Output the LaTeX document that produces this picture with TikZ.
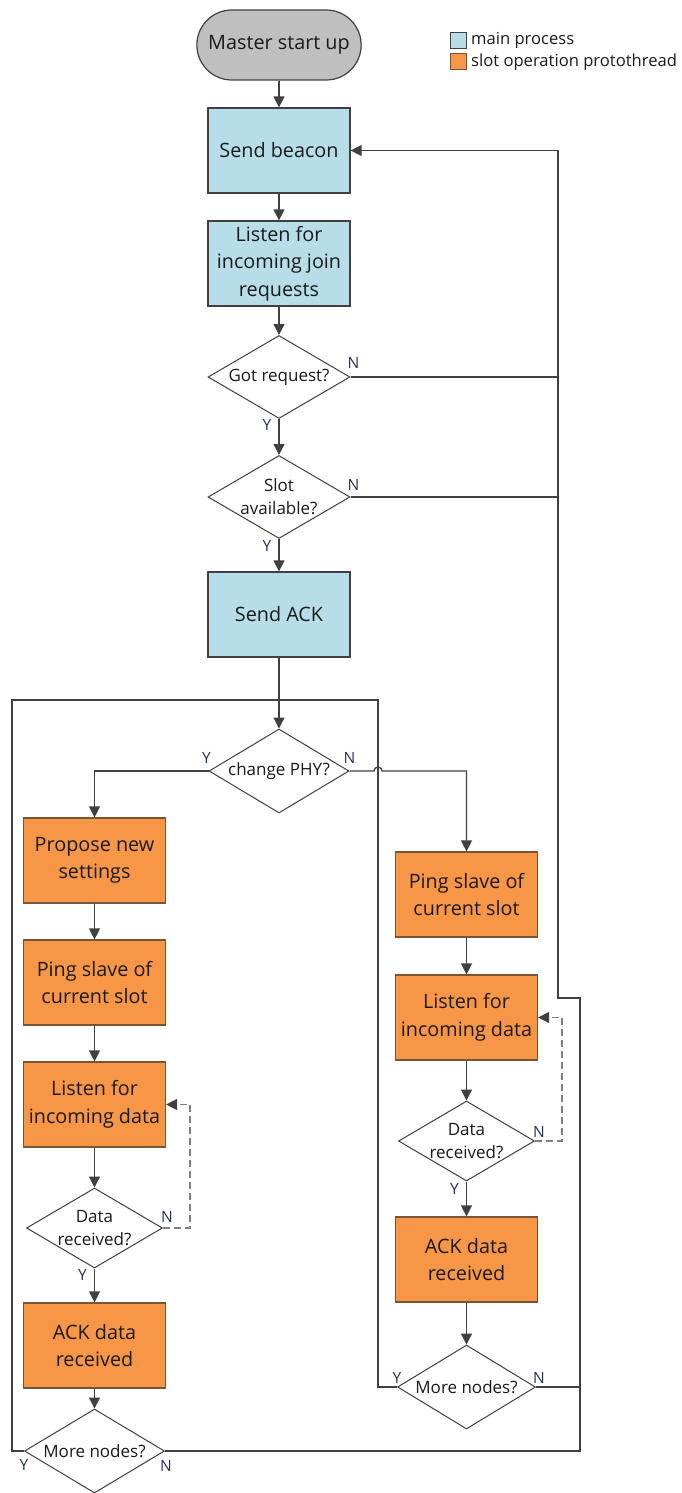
\documentclass[tikz,border=0pt]{standalone}
\usepackage{fontspec}
\setmainfont{Open Sans}
\usetikzlibrary{shapes.geometric,shapes.misc,arrows.meta,calc}

\definecolor{mainblue}{HTML}{B7DDE8}
\definecolor{slotorange}{HTML}{F79646}
\definecolor{termgrey}{HTML}{BFBFBF}
\definecolor{linegrey}{HTML}{404040}
\definecolor{orangeedge}{HTML}{7A5535}
\definecolor{txt}{HTML}{1A1A1A}
\definecolor{lbl}{HTML}{26325A}
\definecolor{dashgrey}{HTML}{808080}

\begin{document}
\begin{tikzpicture}[x=1pt,y=-1pt,
  every node/.style={text=txt},
  box/.style={rectangle, draw=linegrey, line width=1.2pt, minimum width=142pt,
    minimum height=85pt, align=center, inner sep=2pt,
    font=\fontsize{19.8}{27.5}\selectfont},
  mainbox/.style={box, fill=mainblue},
  slotbox/.style={box, fill=slotorange, draw=orangeedge},
  terminal/.style={rounded rectangle, draw=linegrey, fill=termgrey, line width=1.2pt,
    minimum width=171pt, minimum height=70pt, font=\fontsize{19.8}{24}\selectfont},
  dec/.style={diamond, draw=linegrey, line width=1pt, fill=white,
    minimum width=142pt, minimum height=83pt, inner sep=0pt},
  dectext/.style={align=center, inner sep=0pt, font=\fontsize{17}{23}\selectfont},
  yn/.style={font=\fontsize{15.5}{17}\selectfont, text=lbl, inner sep=0pt},
  conn/.style={draw=linegrey, line width=1.3pt},
  arr/.style={conn, -{Triangle[length=11pt,width=11pt]}},
  dasharr/.style={draw=dashgrey, line width=1.3pt, dash pattern=on 7pt off 4pt,
    -{Triangle[length=11pt,width=11pt,color=linegrey]}},
  keybox/.style={rectangle, draw=linegrey, line width=1pt, minimum size=16pt, inner sep=0pt},
  keytext/.style={anchor=west, inner sep=0pt, font=\fontsize{16.6}{18}\selectfont}
]
\useasboundingbox (0,0) rectangle (682,1493);

% legend
\node[keybox, fill=mainblue] (keymain) at (458,40.5) {};
\node[keytext] (keymaintxt) at (471,40.5) {main process};
\node[keybox, fill=slotorange, draw=orangeedge] (keyslot) at (458,62) {};
\node[keytext] (keyslottxt) at (471,62) {slot operation protothread};

% main process
\node[terminal] (start) at (279,45) {Master start up};
\node[mainbox] (beacon) at (279,150.5) {Send beacon};
\node[mainbox] (join) at (279,263.5) {Listen for\\incoming join\\requests};
\node[dec, label={[dectext]center:Got request?}] (gotreq) at (279,377) {};
\node[dec, label={[dectext]center:{Slot\\available?}}] (slot) at (279,497) {};
\node[mainbox] (ack) at (279,614.5) {Send ACK};
\node[dec, minimum width=140pt, minimum height=84pt,
  label={[dectext]center:change PHY?}] (phy) at (279,771) {};

% slot operation, PHY change branch
\node[slotbox] (propose) at (94.5,860.5) {Propose new\\settings};
\node[slotbox] (pingL) at (94.5,982.5) {Ping slave of\\current slot};
\node[slotbox] (listenL) at (94.5,1104.5) {Listen for\\incoming data};
\node[dec, minimum width=136pt, minimum height=80pt,
  label={[dectext]center:{Data\\received?}}] (dataL) at (94.5,1228) {};
\node[slotbox] (ackL) at (94.5,1345.5) {ACK data\\received};
\node[dec, minimum width=140pt, minimum height=84pt,
  label={[dectext]center:More nodes?}] (moreL) at (94.5,1451) {};

% slot operation, unchanged PHY branch
\node[slotbox] (pingR) at (466.5,894.5) {Ping slave of\\current slot};
\node[slotbox] (listenR) at (466.5,1017.5) {Listen for\\incoming data};
\node[dec, minimum width=136pt, minimum height=80pt,
  label={[dectext]center:{Data\\received?}}] (dataR) at (466.5,1141) {};
\node[slotbox] (ackR) at (466.5,1259.5) {ACK data\\received};
\node[dec, minimum width=138pt, minimum height=84pt,
  label={[dectext]center:More nodes?}] (moreR) at (466.5,1387) {};

% routing points
\coordinate (loopL) at (12,700);
\coordinate (loopR) at (378,700);
\coordinate (retA) at (580,998);
\coordinate (retB) at (558,998);

% slot loop frame
\draw[conn] (moreL.west) -| (loopL) -- (loopR) |- (moreR.west);

% main flow
\draw[arr] (start.south) -- (beacon.north);
\draw[arr] (beacon.south) -- (join.north);
\draw[arr] (join.south) -- (gotreq.north);
\draw[arr] (gotreq.south) -- (slot.north);
\draw[arr] (slot.south) -- (ack.north);
\draw[arr] (ack.south) -- (phy.north);

% back to beacon
\draw[conn] (gotreq.east) -- (gotreq.east -| retB);
\draw[conn] (slot.east) -- (slot.east -| retB);
\draw[arr] (moreL.east) -| (retA) -- (retB) |- (beacon.east);
\draw[conn] (moreR.east) -- (moreR.east -| retA);

% PHY decision
\draw[arr] (phy.west) -| (propose.north);
\draw[arr] (phy.east) -- ($(phy.east -| loopR)+(-4,0)$)
  arc[start angle=180, end angle=0, radius=4pt] -| (pingR.north);

% left column
\draw[arr] (propose.south) -- (pingL.north);
\draw[arr] (pingL.south) -- (listenL.north);
\draw[arr] (listenL.south) -- (dataL.north);
\draw[arr] (dataL.south) -- (ackL.north);
\draw[arr] (ackL.south) -- (moreL.north);
\draw[dasharr] (dataL.east) -- ++(27,0) |- (listenL.east);

% right column
\draw[arr] (pingR.south) -- (listenR.north);
\draw[arr] (listenR.south) -- (dataR.north);
\draw[arr] (dataR.south) -- (ackR.north);
\draw[arr] (ackR.south) -- (moreR.north);
\draw[dasharr] (dataR.east) -- ++(27,0) |- (listenR.east);

% branch labels
\node[yn] at ($(gotreq.east)+(3,-14)$) {N};
\node[yn] at ($(gotreq.south)+(-12,6)$) {Y};
\node[yn] at ($(slot.east)+(3,-12)$) {N};
\node[yn] at ($(slot.south)+(-12,7)$) {Y};
\node[yn] at ($(phy.west)+(-2,-13)$) {Y};
\node[yn] at ($(phy.east)+(0,-13)$) {N};
\node[yn] at ($(dataL.east)+(4,-11)$) {N};
\node[yn] at ($(dataL.south)+(-12,6)$) {Y};
\node[yn] at ($(dataR.east)+(4,-9)$) {N};
\node[yn] at ($(dataR.south)+(-12,7)$) {Y};
\node[yn] at ($(moreR.west)+(0,-9)$) {Y};
\node[yn] at ($(moreR.east)+(3,-9)$) {N};
\node[yn] at ($(moreL.west)+(0,14)$) {Y};
\node[yn] at ($(moreL.east)+(1,15)$) {N};
\end{tikzpicture}
\end{document}
